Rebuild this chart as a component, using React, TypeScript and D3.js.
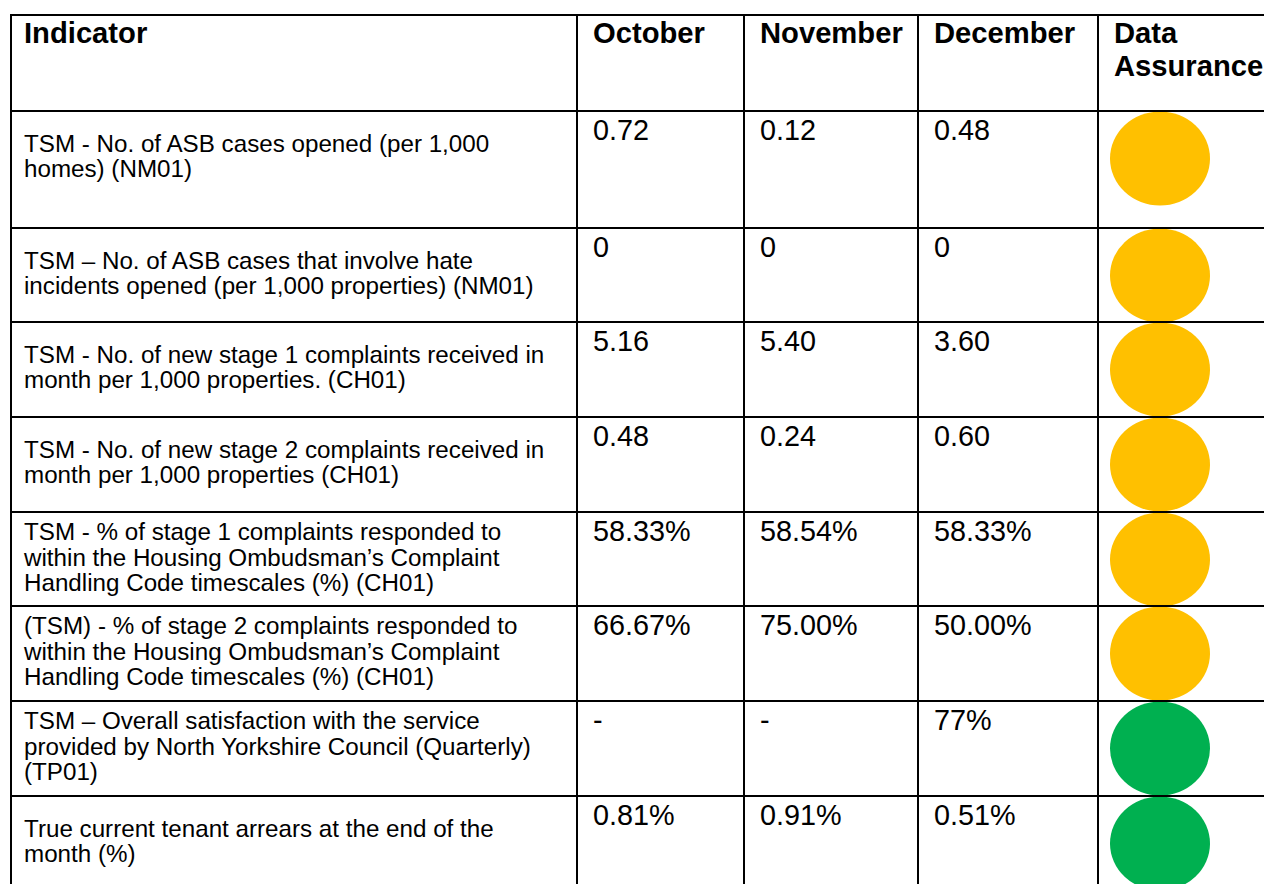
import { cumsum, scaleOrdinal } from "d3";

const months = ["October", "November", "December"];

const indicators = [
  ["TSM - No. of ASB cases opened (per 1,000", "homes) (NM01)"],
  ["TSM – No. of ASB cases that involve hate", "incidents opened (per 1,000 properties) (NM01)"],
  ["TSM - No. of new stage 1 complaints received in", "month per 1,000 properties. (CH01)"],
  ["TSM - No. of new stage 2 complaints received in", "month per 1,000 properties (CH01)"],
  [
    "TSM - % of stage 1 complaints responded to",
    "within the Housing Ombudsman’s Complaint",
    "Handling Code timescales (%) (CH01)",
  ],
  [
    "(TSM) - % of stage 2 complaints responded to",
    "within the Housing Ombudsman’s Complaint",
    "Handling Code timescales (%) (CH01)",
  ],
  [
    "TSM – Overall satisfaction with the service",
    "provided by North Yorkshire Council (Quarterly)",
    "(TP01)",
  ],
  ["True current tenant arrears at the end of the", "month (%)"],
];

const octoberValues = ["0.72", "0", "5.16", "0.48", "58.33%", "66.67%", "-", "0.81%"];
const novemberValues = ["0.12", "0", "5.40", "0.24", "58.54%", "75.00%", "-", "0.91%"];
const decemberValues = ["0.48", "0", "3.60", "0.60", "58.33%", "50.00%", "77%", "0.51%"];
const assurance = ["amber", "amber", "amber", "amber", "amber", "amber", "green", "green"];

const font = "Arial, 'Liberation Sans', sans-serif";

export default function App() {
  const width = 1264;
  const height = 884;
  const tableLeft = 11;
  const tableTop = 15;
  // column edges: indicator | oct | nov | dec | assurance
  const colEdges = [11, 577, 744, 918, 1098, 1300];
  const headerHeight = 96;
  const rowHeights = [117, 94, 95, 95, 94, 95, 95, 95];
  const baseRow = 95;
  const pad = 16;
  const lineGap = 25.5;

  const rowTops = [tableTop + headerHeight, ...Array.from(cumsum(rowHeights), (h) => tableTop + headerHeight + h)];
  const hLines = [tableTop, ...rowTops];

  const valueCols = [octoberValues, novemberValues, decemberValues];

  const lamp = scaleOrdinal<string, string>()
    .domain(["amber", "green"])
    .range(["#FFC000", "#00B050"]);

  const lampX = colEdges[4] + 62;

  return (
    <svg
      width={width}
      height={height}
      viewBox={`0 0 ${width} ${height}`}
      style={{ position: "absolute", left: 0, top: 0, background: "#ffffff" }}
    >
      <rect width={width} height={height} fill="#ffffff" />

      {assurance.map((a, i) => (
        <ellipse
          key={`lamp-${i}`}
          cx={lampX}
          cy={rowTops[i] + baseRow / 2}
          rx={50}
          ry={47}
          fill={lamp(a)}
        />
      ))}

      {/* header */}
      <g fontFamily={font} fontWeight="700" fontSize="29.2" fill="#000000">
        <text x={colEdges[0] + pad - 3} y={tableTop + 28}>
          Indicator
        </text>
        {months.map((m, i) => (
          <text key={m} x={colEdges[i + 1] + pad} y={tableTop + 28}>
            {m}
          </text>
        ))}
        <text x={colEdges[4] + pad} y={tableTop + 28}>
          Data
        </text>
        <text x={colEdges[4] + pad} y={tableTop + 61}>
          Assurance
        </text>
      </g>

      {/* indicator labels */}
      <g fontFamily={font} fontSize="24.2" fill="#000000">
        {indicators.map((lines, i) => {
          const mid = rowTops[i] + baseRow / 2 - 2;
          const first = mid - ((lines.length - 1) * lineGap) / 2 + 8;
          return lines.map((line, j) => (
            <text key={`${i}-${j}`} x={colEdges[0] + pad - 3} y={first + j * lineGap}>
              {line}
            </text>
          ));
        })}
      </g>

      {/* values */}
      <g fontFamily={font} fontSize="28.8" fill="#000000">
        {valueCols.map((vals, c) =>
          vals.map((v, i) => (
            <text key={`${c}-${i}`} x={colEdges[c + 1] + pad} y={rowTops[i] + 29}>
              {v}
            </text>
          ))
        )}
      </g>

      {/* grid */}
      <g stroke="#000000" strokeWidth="2">
        {hLines.map((y, i) => (
          <line key={`h-${i}`} x1={tableLeft} x2={width} y1={y} y2={y} />
        ))}
        {colEdges.slice(0, 5).map((x, i) => (
          <line key={`v-${i}`} x1={x} x2={x} y1={tableTop - 1} y2={height} />
        ))}
      </g>
    </svg>
  );
}
